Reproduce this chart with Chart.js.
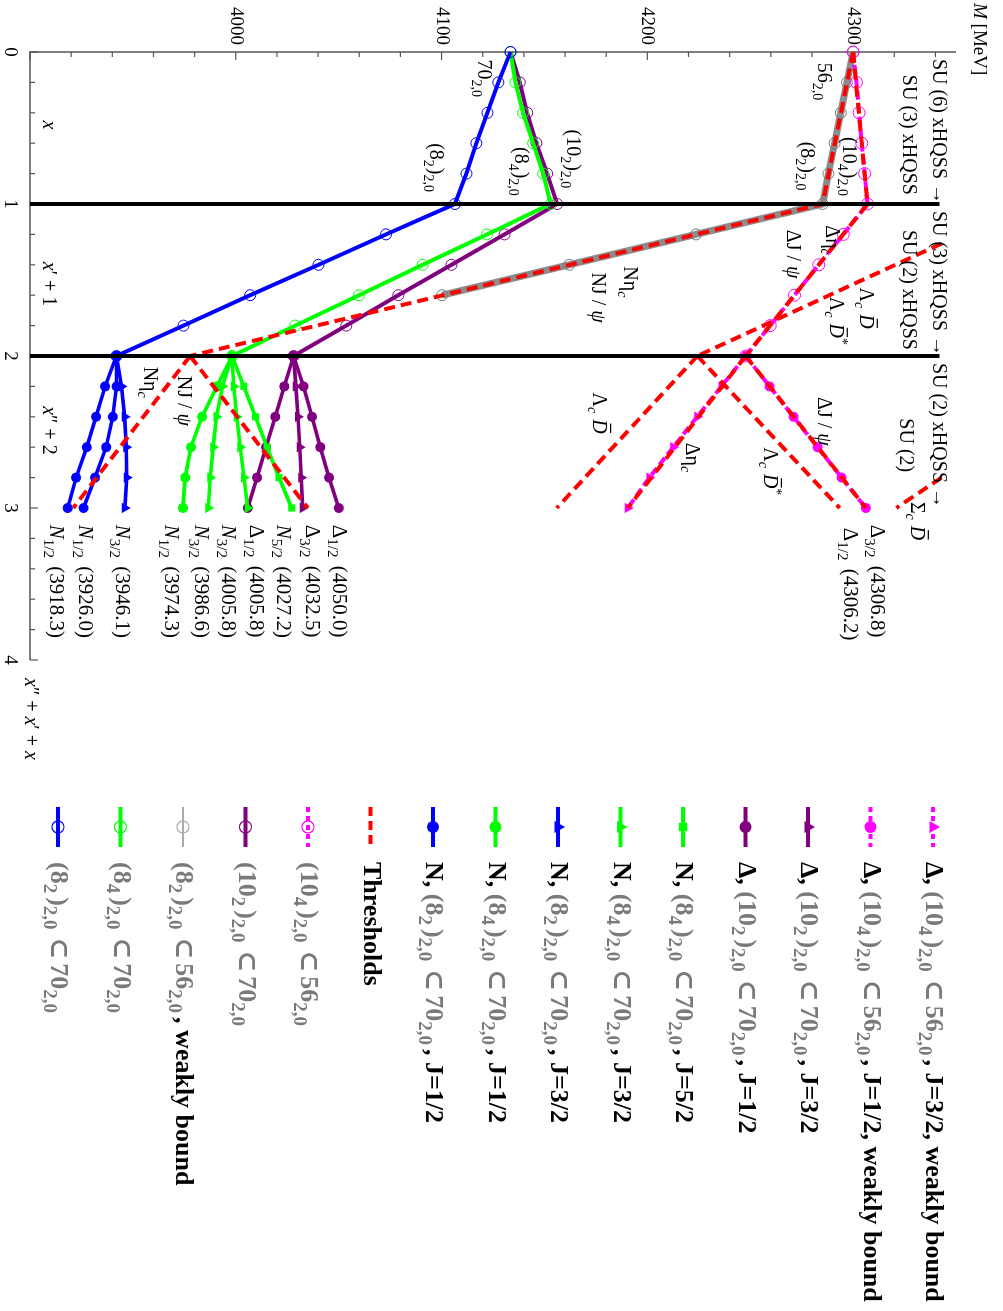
<!DOCTYPE html>
<html><head><meta charset="utf-8">
<style>
html,body{margin:0;padding:0;background:#fff;overflow:hidden;width:1003px;height:1311px;}
#wrap{position:absolute;left:0;top:0;width:1311px;height:1003px;transform-origin:0 0;transform:translate(1003px,0) rotate(90deg);background:#fff;}
</style>
<script src="https://cdn.jsdelivr.net/npm/chart.js@4/dist/chart.umd.min.js"></script>
</head><body>
<div id="wrap"><canvas id="c" width="1311" height="1003"></canvas></div>
<script>
// ---------------- data (t = x''+x'+x, M in MeV) ----------------
const tA = [0, 0.2, 0.4, 0.6, 0.8, 1, 1.2, 1.4, 1.6, 1.8, 2];
const tGray = [0, 0.2, 0.4, 0.6, 0.8, 1, 1.2, 1.4, 1.6];
const tB = [2, 2.2, 2.4, 2.6, 2.8, 3];

const m82_70  = [4133.5, 4127.6, 4122.3, 4116.9, 4112.1, 4106.5, 4073.0, 4040.2, 4007.0, 3974.6, 3942.0];
const m84_70  = [4133.5, 4135.9, 4139.6, 4144.5, 4149.4, 4153.0, 4122.1, 4090.8, 4059.9, 4028.9, 3998.2];
const m102_70 = [4133.5, 4138.0, 4141.6, 4146.1, 4151.3, 4156.2, 4130.6, 4104.8, 4079.0, 4053.7, 4028.1];
const m82_56  = [4300.0, 4297.0, 4294.0, 4291.0, 4288.0, 4285.2, 4223.6, 4162.0, 4100.2];
const m104_56 = [4300.0, 4301.6, 4302.9, 4304.2, 4305.6, 4307.0, 4295.2, 4283.3, 4271.5, 4259.7, 4247.8];

const mN12a   = [3942.0, 3936.5, 3932.1, 3927.6, 3922.4, 3918.3];
const mN12b   = [3942.0, 3942.0, 3940.2, 3937.0, 3931.6, 3926.0];
const mN32blu = [3942.0, 3944.5, 3946.0, 3946.8, 3947.0, 3946.1];
const mN12grn = [3998.2, 3990.8, 3983.6, 3978.2, 3975.4, 3974.3];
const mN32g1  = [3998.2, 3993.5, 3990.6, 3989.0, 3987.6, 3986.6];
const mN32g2  = [3998.2, 3999.0, 4000.5, 4002.2, 4004.0, 4005.8];
const mN52    = [3998.2, 4003.9, 4009.6, 4015.2, 4021.0, 4027.2];
const mD12a   = [4028.1, 4023.6, 4019.2, 4014.7, 4010.3, 4005.8];
const mD32    = [4028.1, 4029.2, 4030.2, 4031.1, 4031.8, 4032.5];
const mD12b   = [4028.1, 4032.9, 4037.0, 4041.1, 4045.3, 4050.0];
const mD12wb  = [4247.8, 4259.4, 4271.0, 4282.7, 4294.4, 4306.2];
const mD32wb  = [4247.8, 4236.0, 4224.2, 4212.6, 4201.0, 4190.5];

// thresholds
const thrNt = [0, 1, 2],        thrNm = [4300.0, 4285.2, 3977.8];
const thrNetat = [2, 3],        thrNetam = [3977.8, 3921.0];
const thrNJt = [2, 3],          thrNJm = [3977.8, 4035.0];
const thrDt = [0, 1, 2],        thrDm = [4300.0, 4307.0, 4247.8];
const thrDJt = [2, 3],          thrDJm = [4247.8, 4306.2];
const thrDetat = [2, 3],        thrDetam = [4247.8, 4190.5];
const thrLt = [1.26, 2],        thrLm = [4343.0, 4224.3];
const thrLDt = [2, 3],          thrLDm = [4224.3, 4156.0];
const thrLDst = [2, 3],         thrLDsm = [4224.3, 4293.5];
const thrSt = [2.8, 3],         thrSm = [4343.0, 4321.0];

const dividerT = [1, 2];
const dividerM = [3900, 4342];

const tTickLabels = ['0', '1', '2', '3', '4'];
const mTickLabels = ['4000', '4100', '4200', '4300'];

// in-plot labels (text, t start/end, M centre, alignment)
const annoText = ['SU (6) xHQSS →', 'SU (3) xHQSS', 'SU (3) xHQSS →', 'SU (2) xHQSS', 'SU (2) xHQSS →', 'SU (2)',
  '70_{2,0}', '56_{2,0}', '(8_{2})_{2,0}', '(8_{4})_{2,0}', '(10_{2})_{2,0}', '(10_{4})_{2,0}', '(8_{2})_{2,0}',
  'Δη_{~c~}', 'ΔJ / ~ψ~', 'Nη_{~c~}', 'NJ / ~ψ~', 'Λ_{~c~} #{D}', 'Λ_{~c~} #{D}^{*}',
  'Nη_{~c~}', 'NJ / ~ψ~', 'ΔJ / ~ψ~', 'Δη_{~c~}', 'Λ_{~c~} #{D}', 'Λ_{~c~} #{D}^{*}', 'Σ_{~c~} #{D}',
  '~x~', '~x~′ + 1', '~x~″ + 2',
  '~N~_{1/2} (3918.3)', '~N~_{1/2} (3926.0)', '~N~_{3/2} (3946.1)', '~N~_{1/2} (3974.3)', '~N~_{3/2} (3986.6)',
  '~N~_{3/2} (4005.8)', 'Δ_{1/2} (4005.8)', '~N~_{5/2} (4027.2)', 'Δ_{3/2} (4032.5)', 'Δ_{1/2} (4050.0)',
  'Δ_{3/2} (4306.8)', 'Δ_{1/2} (4306.2)'];
const annoT = [1.0, 0.94, 2.0, 1.96, 3.0, 2.41,
  0.05, 0.07, 0.6, 0.625, 0.51, 0.56, 0.59,
  1.14, 1.17, 1.41, 1.45, 1.55, 1.61,
  2.07, 2.13, 2.27, 2.57, 2.24, 2.6, 2.96,
  0.45, 1.38, 2.33,
  3.11, 3.11, 3.11, 3.11, 3.11, 3.11, 3.11, 3.11, 3.11, 3.11, 3.11, 3.13];
const annoM = [4342, 4327.5, 4342, 4327.5, 4342, 4326,
  4120.8, 4286.2, 4097.5, 4138.8, 4164.1, 4298.3, 4278,
  4290, 4271, 4191.8, 4176.3, 4306.6, 4292,
  3958.4, 3974.9, 4286.2, 4222, 4177, 4260, 4331.4,
  3909.7, 3909.7, 3909.7,
  3913.0, 3927.1, 3945.0, 3968.9, 3983.5, 3996.9, 4010.3, 4023.6, 4037.4, 4050.8, 4312.0, 4298.8];
const annoAlign = ['right', 'right', 'right', 'right', 'right'];

// legend
const legendLabels = [
  [['Δ, ', 'k'], ['(10_{4})_{2,0}⊂56_{2,0}', 'g'], [', J=3/2, weakly bound', 'k']],
  [['Δ, ', 'k'], ['(10_{4})_{2,0}⊂56_{2,0}', 'g'], [', J=1/2, weakly bound', 'k']],
  [['Δ, ', 'k'], ['(10_{2})_{2,0}⊂70_{2,0}', 'g'], [', J=3/2', 'k']],
  [['Δ, ', 'k'], ['(10_{2})_{2,0}⊂70_{2,0}', 'g'], [', J=1/2', 'k']],
  [['N, ', 'k'], ['(8_{4})_{2,0}⊂70_{2,0}', 'g'], [', J=5/2', 'k']],
  [['N, ', 'k'], ['(8_{4})_{2,0}⊂70_{2,0}', 'g'], [', J=3/2', 'k']],
  [['N, ', 'k'], ['(8_{2})_{2,0}⊂70_{2,0}', 'g'], [', J=3/2', 'k']],
  [['N, ', 'k'], ['(8_{4})_{2,0}⊂70_{2,0}', 'g'], [', J=1/2', 'k']],
  [['N, ', 'k'], ['(8_{2})_{2,0}⊂70_{2,0}', 'g'], [', J=1/2', 'k']],
  [['Thresholds', 'k']],
  [['(10_{4})_{2,0}⊂56_{2,0}', 'g']],
  [['(10_{2})_{2,0}⊂70_{2,0}', 'g']],
  [['(8_{2})_{2,0}⊂56_{2,0}', 'g'], [', weakly bound', 'k']],
  [['(8_{4})_{2,0}⊂70_{2,0}', 'g']],
  [['(8_{2})_{2,0}⊂70_{2,0}', 'g']]
];

// ---------------- styles ----------------
const COL = {blue: '#0000ff', green: '#00ff00', purple: '#800080', magenta: '#ff00ff', red: '#ff0000', gray: '#8c8c8c', black: '#000000'};
const FAM = '"Liberation Serif", "Times New Roman", "DejaVu Serif", serif';

const legendStyle = [
  {c: COL.magenta, dash: [5, 4], w: 4, m: 'triangle', f: true},
  {c: COL.magenta, dash: [5, 4], w: 4, m: 'circle', f: true},
  {c: COL.purple, w: 4, m: 'triangle', f: true},
  {c: COL.purple, w: 4, m: 'circle', f: true},
  {c: COL.green, w: 4, m: 'rect', f: true},
  {c: COL.green, w: 4, m: 'triangle', f: true},
  {c: COL.blue, w: 4, m: 'triangle', f: true},
  {c: COL.green, w: 4, m: 'circle', f: true},
  {c: COL.blue, w: 4, m: 'circle', f: true},
  {c: COL.red, dash: [9, 5], w: 4, m: null},
  {c: COL.magenta, dash: [5, 4], w: 4, m: 'circle', f: false},
  {c: COL.purple, w: 4, m: 'circle', f: false},
  {c: '#aaaaaa', w: 2, m: 'circle', f: false},
  {c: COL.green, w: 4, m: 'circle', f: false},
  {c: COL.blue, w: 4, m: 'circle', f: false}
];

function pts(ts, ms) { return ts.map((t, i) => ({x: t, y: ms[i]})); }
function mk(ts, ms, o) {
  return Object.assign({data: pts(ts, ms), showLine: true, tension: 0, clip: false, fill: false, pointHoverRadius: 0}, o);
}
function openLine(c, w) {
  return {borderColor: c, borderWidth: w || 4, pointStyle: 'circle', pointRadius: 5.5, pointBorderWidth: 1,
    pointBorderColor: c, pointBackgroundColor: 'rgba(0,0,0,0)', order: 3};
}
function fillLine(c, ps) {
  return {borderColor: c, borderWidth: 3.6, pointStyle: ps, pointRadius: ps === 'triangle' ? 6 : 5, pointBorderWidth: 0,
    pointBorderColor: c, pointBackgroundColor: c, order: 3};
}
const thr = {borderColor: COL.red, borderWidth: 4, borderDash: [11, 6], pointRadius: 0, order: 1};
const mag = (ps, filled) => ({borderColor: COL.magenta, borderWidth: 4, borderDash: [9, 4], pointStyle: ps,
  pointRadius: ps === 'triangle' ? 6 : (filled ? 5 : 6), pointBorderWidth: filled ? 0 : 1, pointBorderColor: COL.magenta,
  pointBackgroundColor: filled ? COL.magenta : 'rgba(0,0,0,0)', order: 4});

const datasets = [
  // dividers
  mk([dividerT[0], dividerT[0]], dividerM, {borderColor: '#000', borderWidth: 4, pointRadius: 0, order: 0}),
  mk([dividerT[1], dividerT[1]], dividerM, {borderColor: '#000', borderWidth: 4, pointRadius: 0, order: 0}),
  // thresholds
  mk(thrNt, thrNm, thr), mk(thrNetat, thrNetam, thr), mk(thrNJt, thrNJm, thr),
  mk(thrDt, thrDm, thr), mk(thrDJt, thrDJm, thr), mk(thrDetat, thrDetam, thr),
  mk(thrLt, thrLm, thr), mk(thrLDt, thrLDm, thr), mk(thrLDst, thrLDsm, thr), mk(thrSt, thrSm, thr),
  // 70-plet flows
  mk(tA, m82_70, openLine(COL.blue)),
  mk(tA, m84_70, openLine(COL.green)),
  mk(tA, m102_70, openLine(COL.purple)),
  // t 2..3 branches
  mk(tB, mN12a, fillLine(COL.blue, 'circle')),
  mk(tB, mN12b, fillLine(COL.blue, 'circle')),
  mk(tB, mN32blu, fillLine(COL.blue, 'triangle')),
  mk(tB, mN12grn, fillLine(COL.green, 'circle')),
  mk(tB, mN32g1, fillLine(COL.green, 'triangle')),
  mk(tB, mN32g2, fillLine(COL.green, 'triangle')),
  mk(tB, mN52, fillLine(COL.green, 'rect')),
  mk(tB, mD12a, fillLine(COL.purple, 'circle')),
  mk(tB, mD32, fillLine(COL.purple, 'triangle')),
  mk(tB, mD12b, fillLine(COL.purple, 'circle')),
  // weakly bound 56-plet states
  mk(tA, m104_56, mag('circle', false)),
  mk(tB, mD12wb, mag('circle', true)),
  mk(tB, mD32wb, mag('triangle', true)),
  mk(tGray, m82_56, {borderColor: COL.gray, borderWidth: 7, pointStyle: 'circle', pointRadius: 5.5, pointBorderWidth: 1,
    pointBorderColor: '#777', pointBackgroundColor: 'rgba(0,0,0,0)', order: 6})
];

// ---------------- rich text helper ----------------
function parseRich(s) {
  const out = []; let i = 0, buf = '', italic = false;
  const flush = () => { if (buf) { out.push({t: buf, lv: 0, it: italic}); buf = ''; } };
  while (i < s.length) {
    const ch = s[i];
    if ((ch === '_' || ch === '^') && s[i + 1] === '{') {
      flush();
      const j = s.indexOf('}', i + 2);
      const content = s.slice(i + 2, j);
      let it2 = false, b = '';
      const lv = ch === '_' ? -1 : 1;
      const grp = [];
      for (const c of content) {
        if (c === '~') { if (b) { grp.push({t: b, lv, it: it2}); b = ''; } it2 = !it2; }
        else b += c;
      }
      if (b) grp.push({t: b, lv, it: it2});
      if (grp.length) grp[grp.length - 1].after = true;
      out.push(...grp);
      i = j + 1; continue;
    }
    if (ch === '#' && s[i + 1] === '{') {
      flush();
      const j = s.indexOf('}', i + 2);
      out.push({t: s.slice(i + 2, j), lv: 0, it: true, bar: true});
      i = j + 1; continue;
    }
    if (ch === '~') { flush(); italic = !italic; i++; continue; }
    if (ch === '⊂') { flush(); out.push({t: ch, lv: 0, it: false, pad: true}); i++; continue; }
    buf += ch; i++;
  }
  flush();
  return out;
}
function fontFor(it, size, weight, subR) {
  const sz = it.lv ? Math.round(size * subR) : size;
  return (it.it ? 'italic ' : '') + (weight || 'normal') + ' ' + sz + 'px ' + FAM;
}
function drawRich(ctx, segs, x, yMid, size, align, weight, subR, gap) {
  subR = subR || 0.7; gap = gap || 0;
  const items = [];
  segs.forEach(([s, col]) => parseRich(s).forEach(it => { it.col = col; items.push(it); }));
  let total = 0;
  items.forEach(it => {
    ctx.font = fontFor(it, size, weight, subR);
    it.w = ctx.measureText(it.t).width + (it.after ? gap : 0) + (it.pad ? 2 * gap : 0);
    total += it.w;
  });
  let cx = align === 'right' ? x - total : (align === 'center' ? x - total / 2 : x);
  const base = yMid + size * 0.33;
  ctx.textAlign = 'left'; ctx.textBaseline = 'alphabetic';
  items.forEach(it => {
    ctx.font = fontFor(it, size, weight, subR);
    const col = it.col === 'g' ? '#7a7a7a' : '#000';
    ctx.fillStyle = col;
    const dy = it.lv < 0 ? size * 0.27 : (it.lv > 0 ? -size * 0.4 : 0);
    ctx.fillText(it.t, cx + (it.pad ? gap : 0), base + dy);
    if (it.bar) {
      ctx.strokeStyle = col; ctx.lineWidth = 1.2;
      ctx.beginPath(); ctx.moveTo(cx + it.w * 0.3, base - size * 0.86); ctx.lineTo(cx + it.w * 0.95, base - size * 0.86); ctx.stroke();
    }
    cx += it.w;
  });
  return total;
}
function drawMarker(ctx, style, x, y, r, color, filled) {
  ctx.save();
  ctx.beginPath();
  if (style === 'circle') ctx.arc(x, y, r, 0, Math.PI * 2);
  else if (style === 'triangle') {
    let rad = 0;
    ctx.moveTo(x + Math.sin(rad) * r, y - Math.cos(rad) * r);
    rad += Math.PI * 2 / 3; ctx.lineTo(x + Math.sin(rad) * r, y - Math.cos(rad) * r);
    rad += Math.PI * 2 / 3; ctx.lineTo(x + Math.sin(rad) * r, y - Math.cos(rad) * r);
    ctx.closePath();
  } else if (style === 'rect') { const s = r * Math.SQRT1_2; ctx.rect(x - s, y - s, 2 * s, 2 * s); }
  if (filled) { ctx.fillStyle = color; ctx.fill(); }
  else { ctx.strokeStyle = color; ctx.lineWidth = 1.2; ctx.stroke(); }
  ctx.restore();
}

// ---------------- plugin: axes, ticks, labels, legend ----------------
const deco = {
  id: 'deco',
  beforeDatasetsDraw(chart) {
    const ctx = chart.ctx, xs = chart.scales.x, ys = chart.scales.y;
    const x0 = xs.getPixelForValue(xs.min), y0 = ys.getPixelForValue(ys.min);
    ctx.save();
    ctx.strokeStyle = '#555'; ctx.lineWidth = 1.5;
    ctx.beginPath(); ctx.moveTo(x0, ys.getPixelForValue(ys.max)); ctx.lineTo(x0, y0); ctx.lineTo(xs.getPixelForValue(xs.max), y0); ctx.stroke();
    ctx.lineWidth = 1.2;
    for (let k = 0; k <= 22; k++) {
      const m = 3900 + k * 20, p = ys.getPixelForValue(m), len = (k % 5 === 0) ? 8 : 5;
      ctx.beginPath(); ctx.moveTo(x0, p); ctx.lineTo(x0 + len, p); ctx.stroke();
    }
    for (let k = 0; k <= 20; k++) {
      const p = xs.getPixelForValue(k * 0.2), len = (k % 5 === 0) ? 8 : 5;
      ctx.beginPath(); ctx.moveTo(p, y0); ctx.lineTo(p, y0 - len); ctx.stroke();
    }
    ctx.restore();
  },
  afterDraw(chart) {
    const ctx = chart.ctx, xs = chart.scales.x, ys = chart.scales.y;
    ctx.save();
    // in-plot labels
    annoText.forEach((s, i) => {
      const big = i >= 29;
      drawRich(ctx, [[s, 'k']], xs.getPixelForValue(annoT[i]), ys.getPixelForValue(annoM[i]), big ? 21 : 20,
        annoAlign[i] || 'left', 'normal', 0.72, big ? 3 : 1);
    });
    // axis titles
    drawRich(ctx, [['~M~ [MeV]', 'k']], xs.left - 49, ys.top - 24, 19, 'left');
    drawRich(ctx, [['~x~″ + ~x~′ + ~x~', 'k']], xs.right + 18, ys.bottom - 2, 20, 'left');
    // legend
    const lx0 = 807, lx1 = 847, tx = 862, ly0 = 70, dy = 62.5;
    legendLabels.forEach((segs, i) => {
      const y = ly0 + i * dy, st = legendStyle[i];
      ctx.save();
      ctx.strokeStyle = st.c; ctx.lineWidth = st.w; ctx.setLineDash(st.dash || []);
      ctx.beginPath(); ctx.moveTo(lx0, y); ctx.lineTo(lx1, y); ctx.stroke();
      ctx.setLineDash([]);
      if (st.m) drawMarker(ctx, st.m, (lx0 + lx1) / 2, y, st.m === 'triangle' ? 7 : 6, st.c, st.f);
      ctx.restore();
      drawRich(ctx, segs, tx, y - 2, 26, 'left', 'bold', 0.74, 4);
    });
    ctx.restore();
  }
};

Chart.defaults.font.family = FAM;
new Chart(document.getElementById('c'), {
  type: 'scatter',
  data: {datasets},
  options: {
    responsive: false, animation: false, devicePixelRatio: 1,
    layout: {padding: {left: 0, right: 651, top: 47, bottom: 0}},
    plugins: {legend: {display: false}, tooltip: {enabled: false}},
    events: [],
    scales: {
      x: {type: 'linear', min: 0, max: 4, position: 'bottom',
        grid: {display: false, drawTicks: false}, border: {display: false},
        ticks: {stepSize: 1, padding: 9, color: '#000', font: {size: 19}, maxRotation: 0, autoSkip: false, includeBounds: false,
          callback: (v) => tTickLabels[Math.round(v)] ?? ''},
        afterFit: (s) => { s.height = 30; }},
      y: {type: 'linear', min: 3900, max: 4350, position: 'left',
        grid: {display: false, drawTicks: false}, border: {display: false},
        ticks: {stepSize: 100, padding: 7, color: '#000', font: {size: 19}, autoSkip: false, includeBounds: false,
          callback: (v) => mTickLabels[Math.round((v - 4000) / 100)] ?? ''},
        afterFit: (s) => { s.width = 52; }}
    }
  },
  plugins: [deco]
});
</script>
</body></html>
